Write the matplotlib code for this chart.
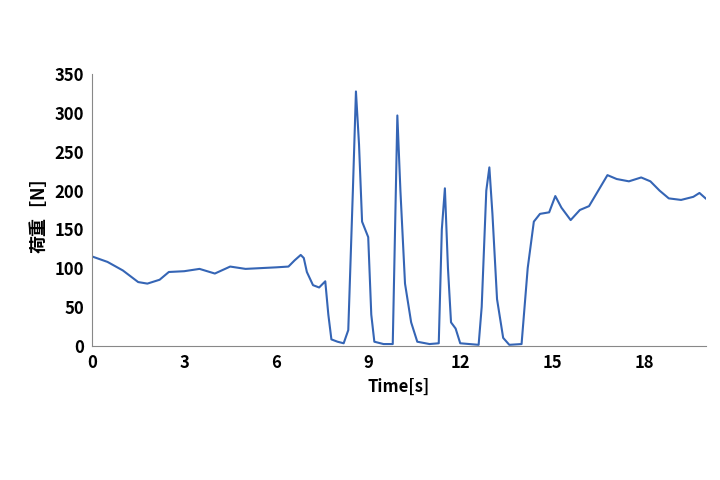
import matplotlib
matplotlib.use("Agg")
import matplotlib.pyplot as plt

plt.rcParams['font.family'] = ['Noto Sans CJK JP', 'DejaVu Sans']

time_s = [0, 0.5, 1, 1.5, 1.8, 2.2, 2.5, 3, 3.5, 4, 4.5, 5, 5.5, 6, 6.4, 6.6, 6.8, 6.9,
          7.0, 7.2, 7.4, 7.6, 7.7, 7.8, 8.0, 8.2, 8.35, 8.5, 8.6, 8.7, 8.8, 8.9, 9.0, 9.1,
          9.2, 9.5, 9.8, 9.85, 9.95, 10.05, 10.2, 10.4, 10.6, 11.0, 11.3, 11.4, 11.5, 11.6,
          11.7, 11.85, 12.0, 12.6, 12.7, 12.85, 12.95, 13.05, 13.2, 13.4, 13.6, 14.0, 14.2,
          14.4, 14.6, 14.9, 15.1, 15.3, 15.6, 15.9, 16.2, 16.5, 16.8, 17.1, 17.5, 17.9,
          18.2, 18.5, 18.8, 19.2, 19.6, 19.8, 20]
load_n = [115, 108, 97, 82, 80, 85, 95, 96, 99, 93, 102, 99, 100, 101, 102, 110, 117, 113,
          95, 78, 75, 83, 40, 8, 5, 3, 20, 200, 328, 260, 160, 150, 140, 40,
          5, 2, 2, 100, 297, 200, 80, 30, 5, 2, 3, 150, 203, 100,
          30, 22, 3, 1, 50, 200, 230, 170, 60, 10, 1, 2, 100,
          160, 170, 172, 193, 178, 162, 175, 180, 200, 220, 215, 212, 217,
          212, 200, 190, 188, 192, 197, 190]

fig, ax = plt.subplots(figsize=(7.2, 4.8), dpi=100)
fig.subplots_adjust(left=0.128, right=0.98, bottom=0.28, top=0.845)
ax.plot(time_s, load_n, color="#3565B5", linewidth=1.5)
ax.set_xlim(0, 20)
ax.set_ylim(0, 350)
ax.set_xticks(range(0, 19, 3))
ax.set_yticks(range(0, 351, 50))
for side in ("top", "right"):
    ax.spines[side].set_visible(False)
for side in ("left", "bottom"):
    ax.spines[side].set_color("#888888")
ax.tick_params(length=0, labelsize=12, pad=6)
for lab in ax.get_xticklabels() + ax.get_yticklabels():
    lab.set_fontweight("bold")
ax.set_xlabel("Time[s]", fontsize=12, fontweight="bold")
ax.set_ylabel("荷重［N］", fontsize=13, fontweight="bold")
fig.savefig("out.png")
